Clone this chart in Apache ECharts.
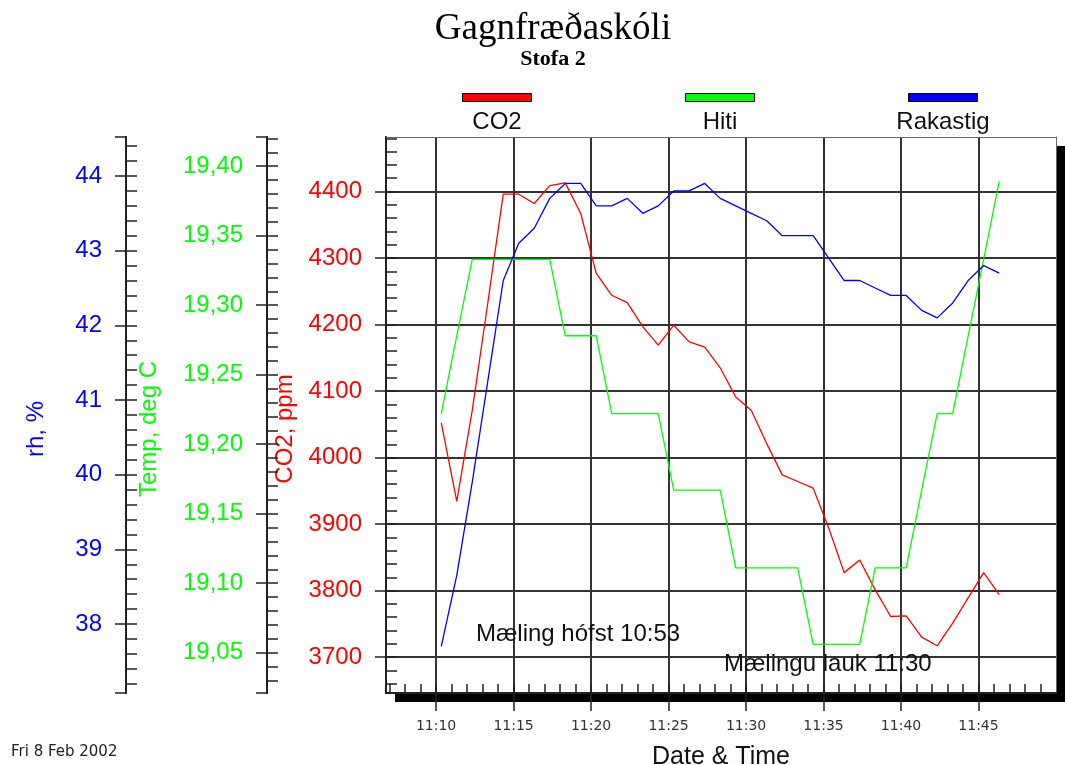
<!DOCTYPE html>
<html>
<head>
<meta charset="utf-8">
<script src="https://cdn.jsdelivr.net/npm/echarts@6/dist/echarts.min.js"></script>
<style>
  html, body { margin: 0; padding: 0; background: #fff; }
  #chart { width: 1065px; height: 765px; }
</style>
</head>
<body>
<div id="chart"></div>
<script>
// Readings, one per minute
const times = [
  '11:10:20','11:11:20','11:12:20','11:13:20','11:14:20','11:15:20','11:16:20','11:17:20',
  '11:18:20','11:19:20','11:20:20','11:21:20','11:22:20','11:23:20','11:24:20','11:25:20',
  '11:26:20','11:27:20','11:28:20','11:29:20','11:30:20','11:31:20','11:32:20','11:33:20',
  '11:34:20','11:35:20','11:36:20','11:37:20','11:38:20','11:39:20','11:40:20','11:41:20',
  '11:42:20','11:43:20','11:44:20','11:45:20','11:46:20'
];
// CO2, ppm
const co2 = [
  4052, 3934, 4071, 4232, 4396, 4396, 4382, 4409,
  4413, 4367, 4277, 4244, 4233, 4197, 4169, 4199,
  4174, 4166, 4135, 4091, 4071, 4021, 3974, 3964,
  3954, 3894, 3827, 3846, 3801, 3761, 3762, 3730,
  3717, 3751, 3789, 3827, 3794
];
// Hiti (temperature), deg C
const hiti = [
  19.222, 19.278, 19.333, 19.333, 19.333, 19.333, 19.333, 19.333,
  19.278, 19.278, 19.278, 19.222, 19.222, 19.222, 19.222, 19.167,
  19.167, 19.167, 19.167, 19.111, 19.111, 19.111, 19.111, 19.111,
  19.056, 19.056, 19.056, 19.056, 19.111, 19.111, 19.111, 19.167,
  19.222, 19.222, 19.278, 19.333, 19.389
];
// Rakastig (relative humidity), %
const rakastig = [
  37.7, 38.65, 39.9, 41.25, 42.6, 43.1, 43.3, 43.7,
  43.9, 43.9, 43.6, 43.6, 43.7, 43.5, 43.6, 43.8,
  43.8, 43.9, 43.7, 43.6, 43.5, 43.4, 43.2, 43.2,
  43.2, 42.9, 42.6, 42.6, 42.5, 42.4, 42.4, 42.2,
  42.1, 42.3, 42.6, 42.8, 42.7
];

const seriesNames = ['CO2', 'Hiti', 'Rakastig'];
const seriesColors = ['#ff0000', '#00ff00', '#0000ff'];

// Tick labels
const timeTickLabels = ['11:10', '11:15', '11:20', '11:25', '11:30', '11:35', '11:40', '11:45'];
const co2TickLabels = [3700, 3800, 3900, 4000, 4100, 4200, 4300, 4400];
const hitiTickLabels = [19.05, 19.10, 19.15, 19.20, 19.25, 19.30, 19.35, 19.40];
const rakastigTickLabels = [38, 39, 40, 41, 42, 43, 44];

const SANS = 'Liberation Sans, Arial, sans-serif';
const SERIF = 'Liberation Serif, Times New Roman, serif';
const AXIS_INK = '#222';

const toMin = s => { const p = s.split(':').map(Number); return p[0] * 60 + p[1] + (p[2] || 0) / 60; };
const fmtTime = v => { const m = Math.round(v); return Math.floor(m / 60) + ':' + String(m % 60).padStart(2, '0'); };

// Axis extents
const X_RANGE = [toMin('11:06:46'), toMin('11:50:00')];
const CO2_RANGE = [3646, 4482];
const HITI_RANGE = [19.021, 19.421];
const RAK_RANGE = [37.076, 44.522];

// Evenly spaced minor tick positions: k/div for k in [from, to]
function minorTicks(from, to, div) {
  const out = [];
  for (let k = from; k <= to; k++) out.push(k / div);
  return out;
}
const minuteTicks = minorTicks(toMin('11:07'), toMin('11:49'), 1);
const co2Minor = minorTicks(183, 224, 1 / 20);      // 3660 .. 4480 by 20
const hitiMinor = minorTicks(1903, 1942, 100);       // 19.03 .. 19.42 by 0.01
const rakMinor = minorTicks(186, 222, 5);            // 37.2 .. 44.4 by 0.2

const tickLine = { color: AXIS_INK, width: 1.5 };
const axisLine = { show: true, lineStyle: { color: AXIS_INK, width: 2 } };
const frameLine = { show: true, lineStyle: { color: '#666', width: 1 } };

function majorY(range, ticks, color, name, offset, nameGap, fmt, caps, grid) {
  const tickVals = caps ? ticks.concat(range) : ticks;
  return {
    type: 'value', position: 'left', offset, min: range[0], max: range[1],
    name, nameLocation: 'middle', nameGap, nameRotate: 90,
    nameTextStyle: { color, fontSize: 24, fontFamily: SANS, padding: [0, 28, 0, 0] },
    axisLine,
    axisTick: { show: true, inside: false, length: 11, customValues: tickVals, lineStyle: tickLine },
    axisLabel: { show: true, customValues: ticks, margin: 24, color, fontSize: 24, fontFamily: SANS, formatter: fmt },
    splitLine: grid ? { show: true, lineStyle: { color: '#333', width: 2 } } : { show: false }
  };
}
function minorY(range, ticks, offset) {
  return {
    type: 'value', position: 'left', offset, min: range[0], max: range[1],
    axisLine,
    axisTick: { show: true, inside: true, length: 11, customValues: ticks, lineStyle: tickLine },
    axisLabel: { show: false },
    splitLine: { show: false }
  };
}

const timeTickVals = timeTickLabels.map(toMin);

const option = {
  backgroundColor: '#fff',
  animation: false,
  title: {
    text: 'Gagnfræðaskóli',
    subtext: 'Stofa 2',
    left: 548, top: 6, textAlign: 'center', itemGap: 0,
    textStyle: { fontFamily: SERIF, fontSize: 37, fontWeight: 'normal', color: '#000' },
    subtextStyle: { fontFamily: SERIF, fontSize: 22, fontWeight: 'bold', color: '#000' }
  },
  grid: {
    left: 386, top: 137, width: 670, height: 556,
    outerBoundsMode: 'none', containLabel: false,
    show: true, backgroundColor: '#fff', borderWidth: 0,
    shadowColor: '#000', shadowBlur: 0, shadowOffsetX: 9, shadowOffsetY: 9
  },
  xAxis: [
    {
      type: 'value', position: 'bottom', min: X_RANGE[0], max: X_RANGE[1],
      name: 'Date & Time', nameLocation: 'middle', nameGap: 52,
      nameTextStyle: { color: '#111', fontSize: 25, fontFamily: SANS },
      axisLine,
      axisTick: { show: true, inside: false, length: 18, customValues: timeTickVals, lineStyle: tickLine },
      axisLabel: { show: true, customValues: timeTickVals, margin: 26, color: '#333', fontSize: 14,
        fontFamily: 'DejaVu Sans, sans-serif', formatter: fmtTime },
      splitLine: { show: true, lineStyle: { color: '#333', width: 2 } }
    },
    {
      type: 'value', position: 'bottom', min: X_RANGE[0], max: X_RANGE[1],
      axisLine,
      axisTick: { show: true, inside: true, length: 9, customValues: minuteTicks, lineStyle: tickLine },
      axisLabel: { show: false },
      splitLine: { show: false }
    },
    {
      // top edge of the plot frame
      type: 'value', position: 'top', min: X_RANGE[0], max: X_RANGE[1],
      axisLine: frameLine, axisTick: { show: false }, axisLabel: { show: false }, splitLine: { show: false }
    }
  ],
  yAxis: [
    majorY(CO2_RANGE, co2TickLabels, seriesColors[0], 'CO2, ppm', 0, 85, v => String(Math.round(v)), false, true),
    minorY(CO2_RANGE, co2Minor, 0),
    majorY(HITI_RANGE, hitiTickLabels, seriesColors[1], 'Temp, deg C', 119, 106, v => v.toFixed(2).replace('.', ','), true, false),
    minorY(HITI_RANGE, hitiMinor, 119),
    majorY(RAK_RANGE, rakastigTickLabels, seriesColors[2], 'rh, %', 260, 78, v => String(Math.round(v)), true, false),
    minorY(RAK_RANGE, rakMinor, 260),
    {
      // right edge of the plot frame
      type: 'value', position: 'right', min: CO2_RANGE[0], max: CO2_RANGE[1],
      axisLine: frameLine, axisTick: { show: false }, axisLabel: { show: false }, splitLine: { show: false }
    }
  ],
  series: [
    { name: seriesNames[0], data: co2, yAxisIndex: 0 },
    { name: seriesNames[1], data: hiti, yAxisIndex: 2 },
    { name: seriesNames[2], data: rakastig, yAxisIndex: 4 }
  ].map((s, i) => ({
    type: 'line', name: s.name, xAxisIndex: 0, yAxisIndex: s.yAxisIndex,
    data: times.map((t, k) => [toMin(t), s.data[k]]),
    symbol: 'none', showSymbol: false,
    lineStyle: { color: seriesColors[i], width: 1.3 },
    itemStyle: { color: seriesColors[i] },
    z: 3 + i
  })),
  graphic: [
    // key: coloured bars with their names beneath
    ...seriesNames.map((n, i) => ({
      type: 'rect', left: 462 + i * 223, top: 93,
      shape: { width: 69, height: 8 },
      style: { fill: seriesColors[i], stroke: '#000', lineWidth: 1 }
    })),
    ...seriesNames.map((n, i) => ({
      type: 'text', x: 497 + i * 223, y: 122,
      style: { text: n, fill: '#111', font: '24px ' + SANS, align: 'center', verticalAlign: 'middle' }
    })),
    { type: 'text', x: 476, y: 634, z: 10,
      style: { text: 'Mæling hófst 10:53', fill: '#111', font: '24px ' + SANS, verticalAlign: 'middle' } },
    { type: 'text', x: 724, y: 664, z: 10,
      style: { text: 'Mælingu lauk 11:30', fill: '#111', font: '24px ' + SANS, verticalAlign: 'middle' } },
    { type: 'text', x: 11, y: 752,
      style: { text: 'Fri 8 Feb 2002', fill: '#222', font: '15px DejaVu Sans, sans-serif', verticalAlign: 'middle' } }
  ]
};

const chart = echarts.init(document.getElementById('chart'), null, { renderer: 'canvas' });
chart.setOption(option);
</script>
</body>
</html>
